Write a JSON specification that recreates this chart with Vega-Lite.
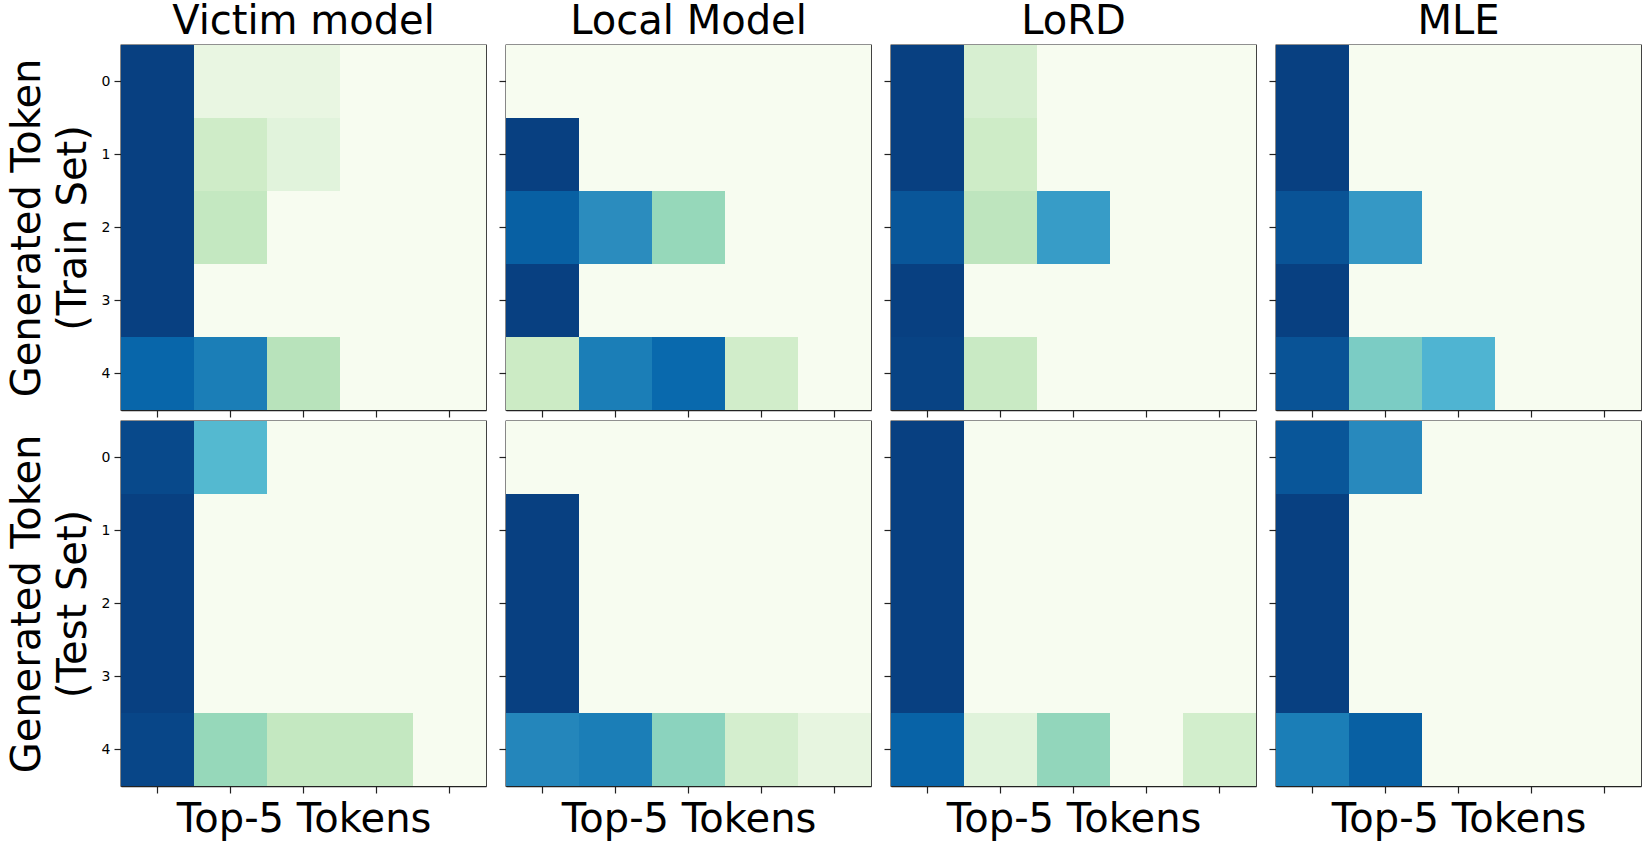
{
  "$schema": "https://vega.github.io/schema/vega-lite/v6.json",
  "padding": {"left": 6, "top": 1, "right": 0, "bottom": 0},
  "background": "white",
  "datasets": {
    "cells": [
      {"m":"Victim model","s":"Train","r":0,"c":0,"v":1.0},{"m":"Victim model","s":"Train","r":0,"c":1,"v":0.08},{"m":"Victim model","s":"Train","r":0,"c":2,"v":0.08},{"m":"Victim model","s":"Train","r":0,"c":3,"v":0},{"m":"Victim model","s":"Train","r":0,"c":4,"v":0},
      {"m":"Victim model","s":"Train","r":1,"c":0,"v":1.0},{"m":"Victim model","s":"Train","r":1,"c":1,"v":0.23},{"m":"Victim model","s":"Train","r":1,"c":2,"v":0.12},{"m":"Victim model","s":"Train","r":1,"c":3,"v":0},{"m":"Victim model","s":"Train","r":1,"c":4,"v":0},
      {"m":"Victim model","s":"Train","r":2,"c":0,"v":1.0},{"m":"Victim model","s":"Train","r":2,"c":1,"v":0.28},{"m":"Victim model","s":"Train","r":2,"c":2,"v":0},{"m":"Victim model","s":"Train","r":2,"c":3,"v":0},{"m":"Victim model","s":"Train","r":2,"c":4,"v":0},
      {"m":"Victim model","s":"Train","r":3,"c":0,"v":1.0},{"m":"Victim model","s":"Train","r":3,"c":1,"v":0},{"m":"Victim model","s":"Train","r":3,"c":2,"v":0},{"m":"Victim model","s":"Train","r":3,"c":3,"v":0},{"m":"Victim model","s":"Train","r":3,"c":4,"v":0},
      {"m":"Victim model","s":"Train","r":4,"c":0,"v":0.88},{"m":"Victim model","s":"Train","r":4,"c":1,"v":0.8},{"m":"Victim model","s":"Train","r":4,"c":2,"v":0.32},{"m":"Victim model","s":"Train","r":4,"c":3,"v":0},{"m":"Victim model","s":"Train","r":4,"c":4,"v":0},

      {"m":"Local Model","s":"Train","r":0,"c":0,"v":0},{"m":"Local Model","s":"Train","r":0,"c":1,"v":0},{"m":"Local Model","s":"Train","r":0,"c":2,"v":0},{"m":"Local Model","s":"Train","r":0,"c":3,"v":0},{"m":"Local Model","s":"Train","r":0,"c":4,"v":0},
      {"m":"Local Model","s":"Train","r":1,"c":0,"v":1.0},{"m":"Local Model","s":"Train","r":1,"c":1,"v":0},{"m":"Local Model","s":"Train","r":1,"c":2,"v":0},{"m":"Local Model","s":"Train","r":1,"c":3,"v":0},{"m":"Local Model","s":"Train","r":1,"c":4,"v":0},
      {"m":"Local Model","s":"Train","r":2,"c":0,"v":0.9},{"m":"Local Model","s":"Train","r":2,"c":1,"v":0.75},{"m":"Local Model","s":"Train","r":2,"c":2,"v":0.42},{"m":"Local Model","s":"Train","r":2,"c":3,"v":0},{"m":"Local Model","s":"Train","r":2,"c":4,"v":0},
      {"m":"Local Model","s":"Train","r":3,"c":0,"v":1.0},{"m":"Local Model","s":"Train","r":3,"c":1,"v":0},{"m":"Local Model","s":"Train","r":3,"c":2,"v":0},{"m":"Local Model","s":"Train","r":3,"c":3,"v":0},{"m":"Local Model","s":"Train","r":3,"c":4,"v":0},
      {"m":"Local Model","s":"Train","r":4,"c":0,"v":0.25},{"m":"Local Model","s":"Train","r":4,"c":1,"v":0.8},{"m":"Local Model","s":"Train","r":4,"c":2,"v":0.87},{"m":"Local Model","s":"Train","r":4,"c":3,"v":0.22},{"m":"Local Model","s":"Train","r":4,"c":4,"v":0},

      {"m":"LoRD","s":"Train","r":0,"c":0,"v":1.0},{"m":"LoRD","s":"Train","r":0,"c":1,"v":0.18},{"m":"LoRD","s":"Train","r":0,"c":2,"v":0},{"m":"LoRD","s":"Train","r":0,"c":3,"v":0},{"m":"LoRD","s":"Train","r":0,"c":4,"v":0},
      {"m":"LoRD","s":"Train","r":1,"c":0,"v":1.0},{"m":"LoRD","s":"Train","r":1,"c":1,"v":0.24},{"m":"LoRD","s":"Train","r":1,"c":2,"v":0},{"m":"LoRD","s":"Train","r":1,"c":3,"v":0},{"m":"LoRD","s":"Train","r":1,"c":4,"v":0},
      {"m":"LoRD","s":"Train","r":2,"c":0,"v":0.93},{"m":"LoRD","s":"Train","r":2,"c":1,"v":0.3},{"m":"LoRD","s":"Train","r":2,"c":2,"v":0.7},{"m":"LoRD","s":"Train","r":2,"c":3,"v":0},{"m":"LoRD","s":"Train","r":2,"c":4,"v":0},
      {"m":"LoRD","s":"Train","r":3,"c":0,"v":1.0},{"m":"LoRD","s":"Train","r":3,"c":1,"v":0},{"m":"LoRD","s":"Train","r":3,"c":2,"v":0},{"m":"LoRD","s":"Train","r":3,"c":3,"v":0},{"m":"LoRD","s":"Train","r":3,"c":4,"v":0},
      {"m":"LoRD","s":"Train","r":4,"c":0,"v":0.99},{"m":"LoRD","s":"Train","r":4,"c":1,"v":0.26},{"m":"LoRD","s":"Train","r":4,"c":2,"v":0},{"m":"LoRD","s":"Train","r":4,"c":3,"v":0},{"m":"LoRD","s":"Train","r":4,"c":4,"v":0},

      {"m":"MLE","s":"Train","r":0,"c":0,"v":1.0},{"m":"MLE","s":"Train","r":0,"c":1,"v":0},{"m":"MLE","s":"Train","r":0,"c":2,"v":0},{"m":"MLE","s":"Train","r":0,"c":3,"v":0},{"m":"MLE","s":"Train","r":0,"c":4,"v":0},
      {"m":"MLE","s":"Train","r":1,"c":0,"v":1.0},{"m":"MLE","s":"Train","r":1,"c":1,"v":0},{"m":"MLE","s":"Train","r":1,"c":2,"v":0},{"m":"MLE","s":"Train","r":1,"c":3,"v":0},{"m":"MLE","s":"Train","r":1,"c":4,"v":0},
      {"m":"MLE","s":"Train","r":2,"c":0,"v":0.94},{"m":"MLE","s":"Train","r":2,"c":1,"v":0.71},{"m":"MLE","s":"Train","r":2,"c":2,"v":0},{"m":"MLE","s":"Train","r":2,"c":3,"v":0},{"m":"MLE","s":"Train","r":2,"c":4,"v":0},
      {"m":"MLE","s":"Train","r":3,"c":0,"v":1.0},{"m":"MLE","s":"Train","r":3,"c":1,"v":0},{"m":"MLE","s":"Train","r":3,"c":2,"v":0},{"m":"MLE","s":"Train","r":3,"c":3,"v":0},{"m":"MLE","s":"Train","r":3,"c":4,"v":0},
      {"m":"MLE","s":"Train","r":4,"c":0,"v":0.94},{"m":"MLE","s":"Train","r":4,"c":1,"v":0.5},{"m":"MLE","s":"Train","r":4,"c":2,"v":0.62},{"m":"MLE","s":"Train","r":4,"c":3,"v":0},{"m":"MLE","s":"Train","r":4,"c":4,"v":0},

      {"m":"Victim model","s":"Test","r":0,"c":0,"v":0.97},{"m":"Victim model","s":"Test","r":0,"c":1,"v":0.6},{"m":"Victim model","s":"Test","r":0,"c":2,"v":0},{"m":"Victim model","s":"Test","r":0,"c":3,"v":0},{"m":"Victim model","s":"Test","r":0,"c":4,"v":0},
      {"m":"Victim model","s":"Test","r":1,"c":0,"v":1.0},{"m":"Victim model","s":"Test","r":1,"c":1,"v":0},{"m":"Victim model","s":"Test","r":1,"c":2,"v":0},{"m":"Victim model","s":"Test","r":1,"c":3,"v":0},{"m":"Victim model","s":"Test","r":1,"c":4,"v":0},
      {"m":"Victim model","s":"Test","r":2,"c":0,"v":1.0},{"m":"Victim model","s":"Test","r":2,"c":1,"v":0},{"m":"Victim model","s":"Test","r":2,"c":2,"v":0},{"m":"Victim model","s":"Test","r":2,"c":3,"v":0},{"m":"Victim model","s":"Test","r":2,"c":4,"v":0},
      {"m":"Victim model","s":"Test","r":3,"c":0,"v":1.0},{"m":"Victim model","s":"Test","r":3,"c":1,"v":0},{"m":"Victim model","s":"Test","r":3,"c":2,"v":0},{"m":"Victim model","s":"Test","r":3,"c":3,"v":0},{"m":"Victim model","s":"Test","r":3,"c":4,"v":0},
      {"m":"Victim model","s":"Test","r":4,"c":0,"v":0.98},{"m":"Victim model","s":"Test","r":4,"c":1,"v":0.42},{"m":"Victim model","s":"Test","r":4,"c":2,"v":0.28},{"m":"Victim model","s":"Test","r":4,"c":3,"v":0.28},{"m":"Victim model","s":"Test","r":4,"c":4,"v":0},

      {"m":"Local Model","s":"Test","r":0,"c":0,"v":0},{"m":"Local Model","s":"Test","r":0,"c":1,"v":0},{"m":"Local Model","s":"Test","r":0,"c":2,"v":0},{"m":"Local Model","s":"Test","r":0,"c":3,"v":0},{"m":"Local Model","s":"Test","r":0,"c":4,"v":0},
      {"m":"Local Model","s":"Test","r":1,"c":0,"v":1.0},{"m":"Local Model","s":"Test","r":1,"c":1,"v":0},{"m":"Local Model","s":"Test","r":1,"c":2,"v":0},{"m":"Local Model","s":"Test","r":1,"c":3,"v":0},{"m":"Local Model","s":"Test","r":1,"c":4,"v":0},
      {"m":"Local Model","s":"Test","r":2,"c":0,"v":1.0},{"m":"Local Model","s":"Test","r":2,"c":1,"v":0},{"m":"Local Model","s":"Test","r":2,"c":2,"v":0},{"m":"Local Model","s":"Test","r":2,"c":3,"v":0},{"m":"Local Model","s":"Test","r":2,"c":4,"v":0},
      {"m":"Local Model","s":"Test","r":3,"c":0,"v":1.0},{"m":"Local Model","s":"Test","r":3,"c":1,"v":0},{"m":"Local Model","s":"Test","r":3,"c":2,"v":0},{"m":"Local Model","s":"Test","r":3,"c":3,"v":0},{"m":"Local Model","s":"Test","r":3,"c":4,"v":0},
      {"m":"Local Model","s":"Test","r":4,"c":0,"v":0.77},{"m":"Local Model","s":"Test","r":4,"c":1,"v":0.8},{"m":"Local Model","s":"Test","r":4,"c":2,"v":0.45},{"m":"Local Model","s":"Test","r":4,"c":3,"v":0.2},{"m":"Local Model","s":"Test","r":4,"c":4,"v":0.09},

      {"m":"LoRD","s":"Test","r":0,"c":0,"v":1.0},{"m":"LoRD","s":"Test","r":0,"c":1,"v":0},{"m":"LoRD","s":"Test","r":0,"c":2,"v":0},{"m":"LoRD","s":"Test","r":0,"c":3,"v":0},{"m":"LoRD","s":"Test","r":0,"c":4,"v":0},
      {"m":"LoRD","s":"Test","r":1,"c":0,"v":1.0},{"m":"LoRD","s":"Test","r":1,"c":1,"v":0},{"m":"LoRD","s":"Test","r":1,"c":2,"v":0},{"m":"LoRD","s":"Test","r":1,"c":3,"v":0},{"m":"LoRD","s":"Test","r":1,"c":4,"v":0},
      {"m":"LoRD","s":"Test","r":2,"c":0,"v":1.0},{"m":"LoRD","s":"Test","r":2,"c":1,"v":0},{"m":"LoRD","s":"Test","r":2,"c":2,"v":0},{"m":"LoRD","s":"Test","r":2,"c":3,"v":0},{"m":"LoRD","s":"Test","r":2,"c":4,"v":0},
      {"m":"LoRD","s":"Test","r":3,"c":0,"v":1.0},{"m":"LoRD","s":"Test","r":3,"c":1,"v":0},{"m":"LoRD","s":"Test","r":3,"c":2,"v":0},{"m":"LoRD","s":"Test","r":3,"c":3,"v":0},{"m":"LoRD","s":"Test","r":3,"c":4,"v":0},
      {"m":"LoRD","s":"Test","r":4,"c":0,"v":0.89},{"m":"LoRD","s":"Test","r":4,"c":1,"v":0.125},{"m":"LoRD","s":"Test","r":4,"c":2,"v":0.43},{"m":"LoRD","s":"Test","r":4,"c":3,"v":0},{"m":"LoRD","s":"Test","r":4,"c":4,"v":0.21},

      {"m":"MLE","s":"Test","r":0,"c":0,"v":0.93},{"m":"MLE","s":"Test","r":0,"c":1,"v":0.76},{"m":"MLE","s":"Test","r":0,"c":2,"v":0},{"m":"MLE","s":"Test","r":0,"c":3,"v":0},{"m":"MLE","s":"Test","r":0,"c":4,"v":0},
      {"m":"MLE","s":"Test","r":1,"c":0,"v":1.0},{"m":"MLE","s":"Test","r":1,"c":1,"v":0},{"m":"MLE","s":"Test","r":1,"c":2,"v":0},{"m":"MLE","s":"Test","r":1,"c":3,"v":0},{"m":"MLE","s":"Test","r":1,"c":4,"v":0},
      {"m":"MLE","s":"Test","r":2,"c":0,"v":1.0},{"m":"MLE","s":"Test","r":2,"c":1,"v":0},{"m":"MLE","s":"Test","r":2,"c":2,"v":0},{"m":"MLE","s":"Test","r":2,"c":3,"v":0},{"m":"MLE","s":"Test","r":2,"c":4,"v":0},
      {"m":"MLE","s":"Test","r":3,"c":0,"v":1.0},{"m":"MLE","s":"Test","r":3,"c":1,"v":0},{"m":"MLE","s":"Test","r":3,"c":2,"v":0},{"m":"MLE","s":"Test","r":3,"c":3,"v":0},{"m":"MLE","s":"Test","r":3,"c":4,"v":0},
      {"m":"MLE","s":"Test","r":4,"c":0,"v":0.8},{"m":"MLE","s":"Test","r":4,"c":1,"v":0.9},{"m":"MLE","s":"Test","r":4,"c":2,"v":0},{"m":"MLE","s":"Test","r":4,"c":3,"v":0},{"m":"MLE","s":"Test","r":4,"c":4,"v":0}
    ]
  },
  "data": {"name": "cells"},
  "spacing": 1,
  "vconcat": [
    {
      "spacing": 10,
      "hconcat": [
        {"width": 365, "height": 365, "title": "Victim model",
         "transform": [{"filter": "datum.m === 'Victim model' && datum.s === 'Train'"}],
         "mark": "rect",
         "encoding": {
           "x": {"field": "c", "type": "ordinal", "axis": {"labels": false, "title": null}},
           "y": {"field": "r", "type": "ordinal", "axis": {"title": ["Generated Token", "(Train Set)"]}},
           "color": {"field": "v", "type": "quantitative", "scale": {"domain": [0, 0.125, 0.25, 0.375, 0.5, 0.625, 0.75, 0.875, 1], "range": ["#f7fcf0","#e0f3db","#ccebc5","#a8ddb5","#7bccc4","#4eb3d3","#2b8cbe","#0868ac","#084081"]}, "legend": null}}},
        {"width": 365, "height": 365, "title": "Local Model",
         "transform": [{"filter": "datum.m === 'Local Model' && datum.s === 'Train'"}],
         "mark": "rect",
         "encoding": {
           "x": {"field": "c", "type": "ordinal", "axis": {"labels": false, "title": null}},
           "y": {"field": "r", "type": "ordinal", "axis": {"labels": false, "title": null}},
           "color": {"field": "v", "type": "quantitative", "scale": {"domain": [0, 0.125, 0.25, 0.375, 0.5, 0.625, 0.75, 0.875, 1], "range": ["#f7fcf0","#e0f3db","#ccebc5","#a8ddb5","#7bccc4","#4eb3d3","#2b8cbe","#0868ac","#084081"]}, "legend": null}}},
        {"width": 365, "height": 365, "title": "LoRD",
         "transform": [{"filter": "datum.m === 'LoRD' && datum.s === 'Train'"}],
         "mark": "rect",
         "encoding": {
           "x": {"field": "c", "type": "ordinal", "axis": {"labels": false, "title": null}},
           "y": {"field": "r", "type": "ordinal", "axis": {"labels": false, "title": null}},
           "color": {"field": "v", "type": "quantitative", "scale": {"domain": [0, 0.125, 0.25, 0.375, 0.5, 0.625, 0.75, 0.875, 1], "range": ["#f7fcf0","#e0f3db","#ccebc5","#a8ddb5","#7bccc4","#4eb3d3","#2b8cbe","#0868ac","#084081"]}, "legend": null}}},
        {"width": 365, "height": 365, "title": "MLE",
         "transform": [{"filter": "datum.m === 'MLE' && datum.s === 'Train'"}],
         "mark": "rect",
         "encoding": {
           "x": {"field": "c", "type": "ordinal", "axis": {"labels": false, "title": null}},
           "y": {"field": "r", "type": "ordinal", "axis": {"labels": false, "title": null}},
           "color": {"field": "v", "type": "quantitative", "scale": {"domain": [0, 0.125, 0.25, 0.375, 0.5, 0.625, 0.75, 0.875, 1], "range": ["#f7fcf0","#e0f3db","#ccebc5","#a8ddb5","#7bccc4","#4eb3d3","#2b8cbe","#0868ac","#084081"]}, "legend": null}}}
      ]
    },
    {
      "spacing": 10,
      "hconcat": [
        {"width": 365, "height": 365,
         "transform": [{"filter": "datum.m === 'Victim model' && datum.s === 'Test'"}],
         "mark": "rect",
         "encoding": {
           "x": {"field": "c", "type": "ordinal", "axis": {"labels": false, "title": "Top-5 Tokens"}},
           "y": {"field": "r", "type": "ordinal", "axis": {"title": ["Generated Token", "(Test Set)"]}},
           "color": {"field": "v", "type": "quantitative", "scale": {"domain": [0, 0.125, 0.25, 0.375, 0.5, 0.625, 0.75, 0.875, 1], "range": ["#f7fcf0","#e0f3db","#ccebc5","#a8ddb5","#7bccc4","#4eb3d3","#2b8cbe","#0868ac","#084081"]}, "legend": null}}},
        {"width": 365, "height": 365,
         "transform": [{"filter": "datum.m === 'Local Model' && datum.s === 'Test'"}],
         "mark": "rect",
         "encoding": {
           "x": {"field": "c", "type": "ordinal", "axis": {"labels": false, "title": "Top-5 Tokens"}},
           "y": {"field": "r", "type": "ordinal", "axis": {"labels": false, "title": null}},
           "color": {"field": "v", "type": "quantitative", "scale": {"domain": [0, 0.125, 0.25, 0.375, 0.5, 0.625, 0.75, 0.875, 1], "range": ["#f7fcf0","#e0f3db","#ccebc5","#a8ddb5","#7bccc4","#4eb3d3","#2b8cbe","#0868ac","#084081"]}, "legend": null}}},
        {"width": 365, "height": 365,
         "transform": [{"filter": "datum.m === 'LoRD' && datum.s === 'Test'"}],
         "mark": "rect",
         "encoding": {
           "x": {"field": "c", "type": "ordinal", "axis": {"labels": false, "title": "Top-5 Tokens"}},
           "y": {"field": "r", "type": "ordinal", "axis": {"labels": false, "title": null}},
           "color": {"field": "v", "type": "quantitative", "scale": {"domain": [0, 0.125, 0.25, 0.375, 0.5, 0.625, 0.75, 0.875, 1], "range": ["#f7fcf0","#e0f3db","#ccebc5","#a8ddb5","#7bccc4","#4eb3d3","#2b8cbe","#0868ac","#084081"]}, "legend": null}}},
        {"width": 365, "height": 365,
         "transform": [{"filter": "datum.m === 'MLE' && datum.s === 'Test'"}],
         "mark": "rect",
         "encoding": {
           "x": {"field": "c", "type": "ordinal", "axis": {"labels": false, "title": "Top-5 Tokens"}},
           "y": {"field": "r", "type": "ordinal", "axis": {"labels": false, "title": null}},
           "color": {"field": "v", "type": "quantitative", "scale": {"domain": [0, 0.125, 0.25, 0.375, 0.5, 0.625, 0.75, 0.875, 1], "range": ["#f7fcf0","#e0f3db","#ccebc5","#a8ddb5","#7bccc4","#4eb3d3","#2b8cbe","#0868ac","#084081"]}, "legend": null}}}
      ]
    }
  ],
  "config": {
    "font": "DejaVu Sans",
    "view": {"stroke": "#222222", "strokeWidth": 1.3},
    "title": {"fontSize": 40, "fontWeight": "normal", "color": "#000000", "offset": 3, "anchor": "middle"},
    "axis": {
      "zindex": 1,
      "domainColor": "#222222", "domainWidth": 1.3,
      "tickColor": "#222222", "tickWidth": 1.2, "tickSize": 7,
      "labelFontSize": 14, "labelColor": "#000000", "labelPadding": 4, "labelAngle": 0,
      "titleFontSize": 40, "titleFontWeight": "normal", "titleColor": "#000000",
      "titleLineHeight": 46, "titlePadding": 8, "grid": false
    },
    "axisX": {"titlePadding": 6}
  }
}
